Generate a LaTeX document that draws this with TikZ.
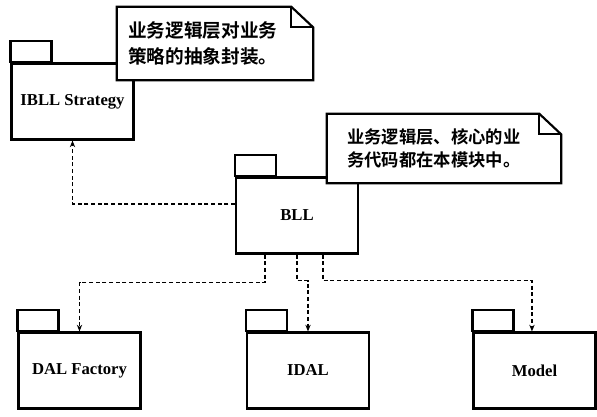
\documentclass[tikz,border=0pt]{standalone}
\usepackage{fontspec}
\setmainfont{Liberation Serif}
\newfontfamily\cjkbf{Noto Sans CJK SC Bold}
\usetikzlibrary{
  arrows.meta,
  calc,
  positioning}

\tikzset{
  pkg/.style={draw, line width=1.6pt, fill=white, minimum width=91.5pt,
    minimum height=57pt, inner sep=0pt,
    font=\bfseries\fontsize{12.5}{14}\selectfont},
  pkgtab/.style={draw, line width=1.6pt},
  notebox/.style={fill=white, inner ysep=0pt, align=left,
    font=\cjkbf\fontsize{14}{20}\selectfont},
  noteline/.style={line width=1.6pt, line join=miter},
  dep/.style={line width=1pt, dash pattern=on 3pt off 2pt,
    -{Stealth[length=5pt,width=4pt]}},
}

\begin{document}
\begin{tikzpicture}[x=0.75pt,y=-0.75pt]
            \useasboundingbox (0,0) rectangle (597,417);
            % packages
            \node[pkg] (ibll) at (72.5,101.5) {IBLL Strategy};
            \node[pkg] (bll) at (297,215.5) {BLL};
            \node[pkg] (dal) at (79.5,370.5) {DAL Factory};
            \node[pkg] (idal) at (308,370.5) {IDAL};
            \node[pkg] (model) at (534.5,370.5) {Model};
            \foreach \p in {ibll,bll,dal,idal,model}
                \draw[pkgtab] (\p.north west) rectangle ++(41,-21);
            % notes
            \node[notebox, text width=130.5pt, inner xsep=8.25pt,
                minimum height=54.75pt] (note1) at (215,43.5)
                {业务逻辑层对业务\\策略的抽象封装。};
            \node[notebox, text width=145.5pt, inner xsep=15pt,
                minimum height=51.75pt, font=\cjkbf\fontsize{13}{17}\selectfont]
                (note2) at (444,148.5)
                {业务逻辑层、核心的业\\务代码都在本模块中。};
            \foreach \n in {note1,note2} {
                \draw[noteline] (\n.north west) -- ([xshift=-16.5pt]\n.north east)
                    -- ([yshift=-15.5pt]\n.north east) -- (\n.south east)
                    -- (\n.south west) -- cycle;
                \draw[noteline] ([xshift=-16.5pt]\n.north east)
                    |- ([yshift=-15.5pt]\n.north east);
            }
            % dependencies
            \draw[dep] ([yshift=8.6pt]bll.west) -| (ibll.south);
            \draw[dep] ([xshift=-24pt]bll.south) -- ++(0,28) -| (dal.north);
            \draw[dep] (bll.south) -- ++(0,26) -| (idal.north);
            \draw[dep] ([xshift=19.5pt]bll.south) -- ++(0,26)
                -| ([xshift=-1.9pt]model.north);
        \end{tikzpicture}
\end{document}
